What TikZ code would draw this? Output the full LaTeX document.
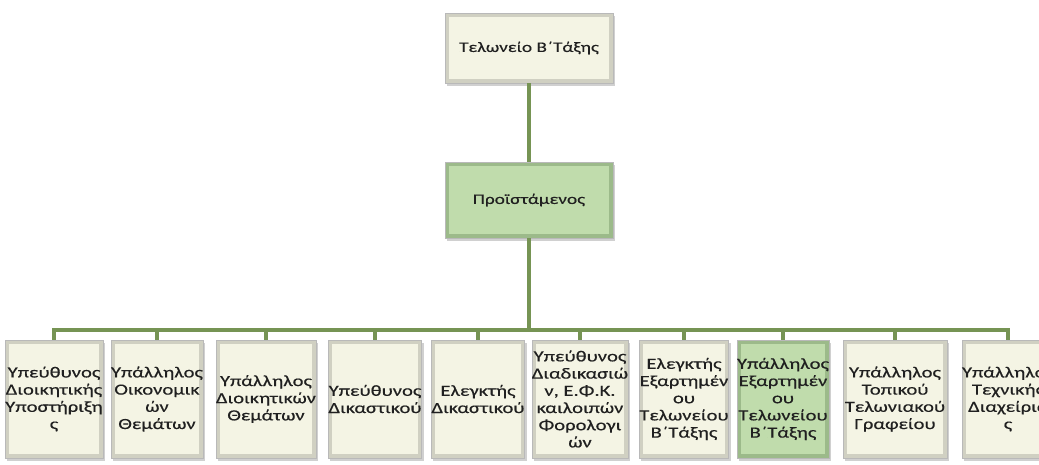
\documentclass[tikz,border=0pt]{standalone}
\usepackage{fontspec}
\setmainfont{Carlito}
\newfontfamily\boxfont[FakeStretch=1.33,FakeBold=0.4]{Carlito}
\usetikzlibrary{shadows}
\definecolor{creamface}{RGB}{244,244,228}
\definecolor{creamedge}{RGB}{208,208,194}
\definecolor{greenface}{RGB}{192,220,172}
\definecolor{greenedge}{RGB}{156,186,138}
\definecolor{busgreen}{RGB}{118,148,84}
\definecolor{txtgray}{RGB}{32,32,32}
\begin{document}
\begin{tikzpicture}[
        x=1pt, y=-1pt,
        box/.style={draw=gray!55, fill=creamedge, inner sep=0pt, align=center,
            text=txtgray, font=\boxfont\fontsize{15.5}{17.2}\selectfont,
            drop shadow={shadow xshift=2pt, shadow yshift=-3pt, fill=gray!60, opacity=.6},
            path picture={\fill[creamface]
                ([shift={(4pt,-4pt)}]path picture bounding box.north west) rectangle
                ([shift={(-4pt,4pt)}]path picture bounding box.south east);}},
        greenbox/.style={box, fill=greenedge,
            path picture={\fill[greenface]
                ([shift={(4pt,-4pt)}]path picture bounding box.north west) rectangle
                ([shift={(-4pt,4pt)}]path picture bounding box.south east);}},
        leaf/.style={minimum height=118pt},
        conn/.style={draw=busgreen, line width=4pt}
    ]
        \useasboundingbox (0,0) rectangle (1039,465);
        \fill[white] (0,0) rectangle (1039,465);

        % Top levels
        \node[box, minimum width=168pt, minimum height=70pt, font=\boxfont\fontsize{14.5}{17}\selectfont] (telonio) at (529,48) {Τελωνείο Β΄Τάξης};
        \node[greenbox, minimum width=168pt, minimum height=76pt, font=\boxfont\fontsize{14.5}{17}\selectfont] (proist) at (529,200) {Προϊστάμενος};

        % Bus level
        \coordinate (bus) at (529,330);

        % Staff boxes
        \node[box, leaf, minimum width=85pt] (ypDioik) at (54,399) {Υπεύθυνος\\Διοικητικής\\Υποστήριξη\\ς};
        \node[box, leaf, minimum width=85pt] (ypalOik) at (157,399) {Υπάλληλος\\Οικονομικ\\ών\\Θεμάτων};
        \node[box, leaf, minimum width=98pt] (ypalDioik) at (266,399) {Υπάλληλος\\Διοικητικών\\Θεμάτων};
        \node[box, leaf, minimum width=86pt] (ypDik) at (375,399) {Υπεύθυνος\\Δικαστικού};
        \node[box, leaf, minimum width=82pt] (elDik) at (478,399) {Ελεγκτής\\Δικαστικού};
        \node[box, leaf, minimum width=85pt] (ypFor) at (580,399) {Υπεύθυνος\\Διαδικασιώ\\ν, Ε.Φ.Κ.\\καιλοιπών\\Φορολογι\\ών};
        \node[box, leaf, minimum width=87pt] (elExart) at (684,399) {Ελεγκτής\\Εξαρτημέν\\ου\\Τελωνείου\\Β΄Τάξης};
        \node[greenbox, leaf, minimum width=83pt] (ypalExart) at (783,399) {Υπάλληλος\\Εξαρτημέν\\ου\\Τελωνείου\\Β΄Τάξης};
        \node[box, leaf, minimum width=104pt] (ypalTop) at (895,399) {Υπάλληλος\\Τοπικού\\Τελωνιακού\\Γραφείου};
        \node[box, leaf, minimum width=90pt] (ypalTech) at (1008,399) {Υπάλληλος\\Τεχνικής\\Διαχείρισ\\ς};

        % Connectors
        \draw[conn] (telonio) -- (proist);
        \draw[conn] (proist) -- (bus);
        \draw[conn] (bus) -| (ypDioik);
        \draw[conn] (bus) -| (ypalOik);
        \draw[conn] (bus) -| (ypalDioik);
        \draw[conn] (bus) -| (ypDik);
        \draw[conn] (bus) -| (elDik);
        \draw[conn] (bus) -| (ypFor);
        \draw[conn] (bus) -| (elExart);
        \draw[conn] (bus) -| (ypalExart);
        \draw[conn] (bus) -| (ypalTop);
        \draw[conn] (bus) -| (ypalTech);
    \end{tikzpicture}
\end{document}
